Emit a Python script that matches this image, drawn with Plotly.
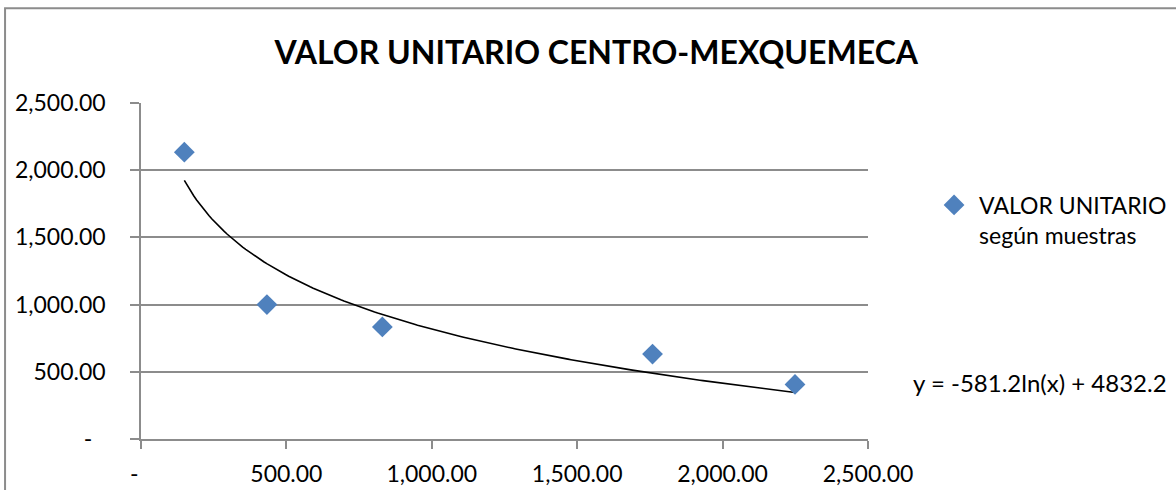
import numpy as np
import plotly.graph_objects as go

# Data
area_x = [149, 433, 830, 1759, 2249]
unit_value = [2134, 1000, 834, 632, 406]
series_name = "VALOR UNITARIO<br>según muestras"

# Logarithmic trendline displayed on the chart: y = a*ln(x) + b
trend_a = -581.2
trend_b = 4832.2
trend_label = "y = -581.2ln(x) + 4832.2"

tick_vals = [0, 500, 1000, 1500, 2000, 2500]
tick_text = ["-\u2007", "500.00", "1,000.00", "1,500.00", "2,000.00", "2,500.00"]

title_text = "<b>VALOR UNITARIO CENTRO-MEXQUEMECA</b>"

FONT = "Lato, Carlito, 'Open Sans', sans-serif"
GRID = "#8c8c8c"

tx = np.linspace(min(area_x), max(area_x), 200)
ty = trend_a * np.log(tx) + trend_b

fig = go.Figure()
fig.add_trace(go.Scatter(
    x=tx, y=ty, mode="lines",
    line=dict(color="black", width=1.6),
    showlegend=False, hoverinfo="skip",
))
fig.add_trace(go.Scatter(
    x=area_x, y=unit_value, mode="markers", name=series_name,
    marker=dict(symbol="diamond", size=16, color="#4F81BD",
                line=dict(width=0)),
))

fig.update_layout(
    width=1176, height=490,
    margin=dict(l=141, r=308, t=103, b=51, autoexpand=False),
    paper_bgcolor="white", plot_bgcolor="white",
    font=dict(family=FONT, size=23, color="black"),
    title=dict(text=title_text, x=0.507, xref="container", xanchor="center",
               y=0.892, yref="container", yanchor="middle",
               font=dict(family=FONT, size=32, color="black")),
    legend=dict(x=1.084, xanchor="left", y=0.652, yanchor="middle",
                valign="top", font=dict(family=FONT, size=23),
                bgcolor="rgba(0,0,0,0)", itemwidth=40),
    annotations=[dict(text=trend_label, xref="paper", yref="paper",
                      x=1.059, y=0.168, xanchor="left", yanchor="middle",
                      showarrow=False, font=dict(family=FONT, size=24))],
    shapes=[dict(type="rect", xref="paper", yref="paper",
                 x0=-0.187, x1=1.7, y0=-0.5, y1=1.282,
                 line=dict(color="#8c8c8c", width=2), layer="below")],
)

fig.update_xaxes(
    range=[0, 2500], tickvals=tick_vals, ticktext=tick_text,
    showgrid=False, zeroline=False,
    showline=True, linecolor=GRID, linewidth=1.5,
    ticks="outside", ticklen=8, tickcolor=GRID, tickwidth=1.5,
    ticklabelstandoff=6,
)
fig.update_yaxes(
    range=[0, 2500], tickvals=tick_vals, ticktext=tick_text,
    showgrid=True, gridcolor=GRID, gridwidth=1.5, zeroline=False,
    showline=True, linecolor=GRID, linewidth=1.5,
    ticks="outside", ticklen=9, tickcolor=GRID, tickwidth=1.5,
    ticklabelstandoff=20,
)

fig.write_html("out.html", config={"displayModeBar": False},
               post_script="document.body.style.margin='0';")
